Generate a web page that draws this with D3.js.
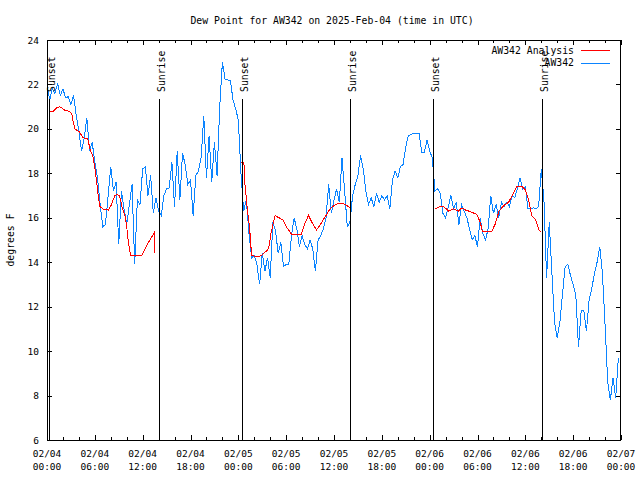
<!DOCTYPE html>
<html><head><meta charset="utf-8">
<script src="https://cdn.jsdelivr.net/npm/d3@7"></script>
<style>
body{margin:0;background:#fff}
text{font-family:"DejaVu Sans Mono","Liberation Mono",monospace;fill:#000}
</style>
</head><body>
<svg id="chart" width="640" height="480"></svg>
<script>
// ---------------- data ----------------
const chartTitle = "Dew Point for AW342 on 2025-Feb-04 (time in UTC)";
const yAxisLabel = "degrees F";
const seriesNames = ["AW342 Analysis", "AW342"];
const startUTC = Date.UTC(2025, 1, 4, 0, 0);   // 02/04 00:00
const endUTC = Date.UTC(2025, 1, 7, 0, 0);     // 02/07 00:00

// station observations (AW342), one reading every 20 minutes from 02/04 00:00
const stationStepMinutes = 20;
const stationValues = [
  22.0, 21.3, 21.8, 21.6, 22.05, 21.5, 21.8, 21.4, 21.45,
  21.1, 21.5, 20.6, 19.9, 19.0, 19.6, 20.5, 19.0, 19.4,
  18.5, 17.8, 16.6, 15.6, 15.7, 17.0, 18.3, 17.2, 17.6,
  14.8, 17.2, 16.4, 15.7, 16.6, 17.5, 13.9, 16.8, 16.6,
  18.2, 18.3, 17.0, 17.9, 16.2, 16.9, 16.3, 16.1, 17.0,
  17.3, 17.35, 18.5, 16.5, 19.0, 16.8, 18.9, 18.4, 17.5,
  17.7, 16.1, 17.9, 18.1, 18.7, 20.6, 17.8, 19.7, 17.6,
  19.4, 17.9, 21.0, 23.0, 22.25, 22.2, 22.2, 21.3, 20.9,
  20.4, 18.0, 16.3, 16.8, 15.3, 14.2, 14.3, 13.9, 13.0,
  14.4, 13.6, 14.2, 13.3, 15.8, 15.4, 14.4, 14.9, 13.8,
  13.9, 13.9, 15.2, 16.0, 15.5, 14.7, 15.2, 14.8, 14.6,
  15.0, 14.6, 13.6, 15.0, 15.2, 15.5, 16.0, 17.5, 16.2,
  16.8, 17.3, 16.7, 18.7, 17.2, 15.6, 15.8, 17.0, 17.5,
  17.9, 18.8, 18.2, 17.2, 16.6, 16.9, 16.5, 17.1, 16.7,
  17.0, 16.8, 17.0, 16.4, 17.7, 18.1, 17.8, 18.3, 18.4,
  19.2, 19.7, 19.75, 19.8, 19.8, 19.8, 18.95, 18.95, 19.5,
  19.0, 18.7, 17.2, 17.3, 17.1, 16.2, 16.0, 16.5, 17.0,
  16.4, 16.7, 15.7, 16.6, 16.3, 16.0, 15.5, 15.0, 15.2,
  14.7, 16.0, 15.3, 15.0, 15.5, 17.0, 16.2, 16.6, 16.0,
  16.7, 16.5, 16.7, 16.5, 17.0, 16.9, 17.3, 17.8, 17.3,
  17.4, 16.4, 16.4, 16.45, 16.4, 16.5, 18.2, 16.8, 13.3,
  15.8, 13.5, 11.3, 10.6, 11.3, 12.6, 13.8, 13.9, 13.4,
  13.0, 12.5, 10.2, 11.8, 11.85, 10.9, 12.3, 12.8, 13.5,
  14.0, 14.7, 13.5, 11.2, 8.6, 7.8, 8.8, 7.9, 9.7
];

// analysis (AW342 Analysis): hours after 02/04 00:00, null = gap
const analysisHours = [
  0.3, 0.8, 1.2, 1.6, 2.2, 2.7, 3.1, 3.3, 3.5, 4.1, 4.5, 5.1, 5.4, 5.8, 6.1, 6.3, 6.45, 6.65,
  7.0, 7.7, 8.1, 8.5, 8.8, 9.1, 9.4, 9.8, 10.0, 10.2, 10.5, 11.9, 12.5, 13.0, 13.5, 13.55,
  13.6,
  24.3, 24.7, 24.8, 25.0, 25.15, 25.4, 25.55, 25.65, 26.5, 26.9, 27.3, 27.7, 27.9, 28.1, 28.4,
  28.6, 29.1, 29.6, 30.1, 30.7, 31.9, 32.4, 32.8, 33.3, 33.8, 34.3, 34.9, 35.5, 36.0, 36.5,
  36.9, 37.4, 37.8, 38.1,
  38.2,
  48.7, 49.3, 49.75, 50.1, 50.4, 51.0, 51.3, 51.6, 52.05, 52.5, 53.3, 53.9, 54.35, 54.6,
  55.8, 56.2, 56.7, 57.3, 57.9, 58.5, 58.9, 59.6, 60.0, 60.4, 60.8, 61.3, 61.7, 62.0
];
const analysisValues = [
  20.75, 20.8, 20.95, 21.0, 20.85, 20.8, 20.7, 20.3, 20.0, 19.85, 19.6, 19.55, 19.1, 18.7, 18.0, 17.4, 16.9, 16.5,
  16.4, 16.35, 16.6, 17.0, 17.05, 17.0, 16.5, 16.05, 15.6, 14.9, 14.3, 14.3, 14.75, 15.05, 15.35, 14.4,
  null,
  18.5, 18.5, 17.6, 16.9, 16.3, 15.6, 14.9, 14.3, 14.25, 14.3, 14.45, 14.55, 14.8, 15.3, 15.8,
  16.1, 16.0, 15.9, 15.55, 15.25, 15.25, 15.8, 16.1, 15.75, 15.45, 15.7, 16.05, 16.4, 16.55, 16.65,
  16.65, 16.6, 16.5, 16.45,
  null,
  16.4, 16.5, 16.5, 16.4, 16.3, 16.4, 16.35, 16.3, 16.45, 16.35, 16.25, 16.15, 15.8, 15.4,
  15.4, 15.7, 16.3, 16.55, 16.7, 17.1, 17.4, 17.4, 17.25, 16.8, 16.1, 15.9, 15.45, 15.35
];

// sunrise / sunset markers (hours after 02/04 00:00)
const sunLabels = ["Sunset", "Sunrise", "Sunset", "Sunrise", "Sunset", "Sunrise"];
const sunHours = [0.29, 14.09, 24.41, 38.05, 48.46, 62.13];

const yTickValues = [6, 8, 10, 12, 14, 16, 18, 20, 22, 24];
const xMajorStepHours = 6;
const xMinorStepHours = 2;

// ---------------- chart ----------------
const W = 640, H = 480;
const plot = {left: 47, right: 621, top: 40, bottom: 440};
const HOUR = 3600 * 1000;

const svg = d3.select("#chart");
svg.append("rect").attr("width", W).attr("height", H).attr("fill", "#fff");

const x = d3.scaleUtc().domain([new Date(startUTC), new Date(endUTC)]).range([plot.left, plot.right]);
const y = d3.scaleLinear().domain([6, 24]).range([plot.bottom, plot.top]);

const majorTimes = d3.utcHour.every(xMajorStepHours).range(new Date(startUTC), new Date(endUTC + 1));
const minorTimes = d3.utcHour.every(xMinorStepHours).range(new Date(startUTC), new Date(endUTC + 1))
  .filter(t => (t.getTime() - startUTC) % (xMajorStepHours * HOUR) !== 0);

// title
svg.append("text").attr("x", 332).attr("y", 20).attr("text-anchor", "middle")
  .attr("dominant-baseline", "central").attr("font-size", "9.8px").text(chartTitle);

// y label
svg.append("text").attr("transform", "translate(10,240) rotate(-90)").attr("text-anchor", "middle")
  .attr("dominant-baseline", "central").attr("font-size", "9.8px").text(yAxisLabel);

// axes (ticks pointing inward, mirrored)
const axG = svg.append("g").attr("shape-rendering", "crispEdges");
function styleAxis(g) {
  g.select(".domain").remove();
  g.selectAll("line").attr("stroke", "#000");
}
axG.append("g").attr("transform", `translate(${plot.left},0)`)
  .call(d3.axisLeft(y).tickValues(yTickValues).tickSize(-5).tickPadding(8).tickFormat(d3.format("d")))
  .call(styleAxis)
  .call(g => g.selectAll("text").attr("font-size", "9.5px").attr("font-family", '"DejaVu Sans Mono",monospace').attr("fill", "#000"));
axG.append("g").attr("transform", `translate(${plot.right},0)`)
  .call(d3.axisRight(y).tickValues(yTickValues).tickSize(-5).tickFormat(""))
  .call(styleAxis);
axG.append("g").attr("transform", `translate(0,${plot.bottom})`)
  .call(d3.axisBottom(x).tickValues(majorTimes).tickSize(-5).tickFormat(""))
  .call(styleAxis);
axG.append("g").attr("transform", `translate(0,${plot.bottom})`)
  .call(d3.axisBottom(x).tickValues(minorTimes).tickSize(-3).tickFormat(""))
  .call(styleAxis);
axG.append("g").attr("transform", `translate(0,${plot.top})`)
  .call(d3.axisTop(x).tickValues(majorTimes).tickSize(-5).tickFormat(""))
  .call(styleAxis);
axG.append("g").attr("transform", `translate(0,${plot.top})`)
  .call(d3.axisTop(x).tickValues(minorTimes).tickSize(-3).tickFormat(""))
  .call(styleAxis);

// x tick labels, two lines
const fmtDate = d3.utcFormat("%m/%d"), fmtTime = d3.utcFormat("%H:%M");
const xl = svg.append("g").attr("font-size", "9.5px").attr("text-anchor", "middle");
majorTimes.forEach(t => {
  const tx = xl.append("text").attr("x", x(t));
  tx.append("tspan").attr("x", x(t)).attr("y", 457).text(fmtDate(t));
  tx.append("tspan").attr("x", x(t)).attr("y", 470).text(fmtTime(t));
});

// data
const stationData = stationValues.map((v, i) => ({t: new Date(startUTC + i * stationStepMinutes * 60000), v}));
const analysisData = analysisHours.map((h, i) => ({t: new Date(startUTC + h * HOUR), v: analysisValues[i]}));

const line = d3.line().defined(d => d.v != null).x(d => x(d.t)).y(d => y(d.v));

svg.append("path").datum(stationData).attr("d", line).attr("fill", "none")
  .attr("stroke", "#0b84ff").attr("stroke-width", 1).attr("shape-rendering", "crispEdges");
svg.append("path").datum(analysisData).attr("d", line).attr("fill", "none")
  .attr("stroke", "#ff0000").attr("stroke-width", 1).attr("shape-rendering", "crispEdges");

// sunrise / sunset markers
const sunG = svg.append("g");
sunHours.forEach((h, i) => {
  const sx = Math.round(x(new Date(startUTC + h * HOUR))) + 0.5;
  sunG.append("line").attr("x1", sx).attr("x2", sx).attr("y1", 99).attr("y2", plot.bottom)
    .attr("stroke", "#000").attr("stroke-width", 1).attr("shape-rendering", "crispEdges");
  sunG.append("text").attr("transform", `translate(${sx + 1.5},92) rotate(-90)`)
    .attr("text-anchor", "start").attr("dominant-baseline", "central").attr("font-size", "9.8px")
    .text(sunLabels[i]);
});

// frame
svg.append("rect").attr("x", plot.left + 0.5).attr("y", plot.top + 0.5)
  .attr("width", plot.right - plot.left - 1).attr("height", plot.bottom - plot.top)
  .attr("fill", "none").attr("stroke", "#000").attr("shape-rendering", "crispEdges");

// legend
const colors = ["#ff0000", "#0b84ff"];
seriesNames.forEach((name, i) => {
  const ly = 50 + i * 12.5;
  svg.append("text").attr("x", 574).attr("y", ly).attr("text-anchor", "end")
    .attr("dominant-baseline", "central").attr("font-size", "9.8px").text(name);
  svg.append("line").attr("x1", 581).attr("x2", 610).attr("y1", Math.round(ly) + 0.5).attr("y2", Math.round(ly) + 0.5)
    .attr("stroke", colors[i]).attr("shape-rendering", "crispEdges");
});
</script>
</body></html>
